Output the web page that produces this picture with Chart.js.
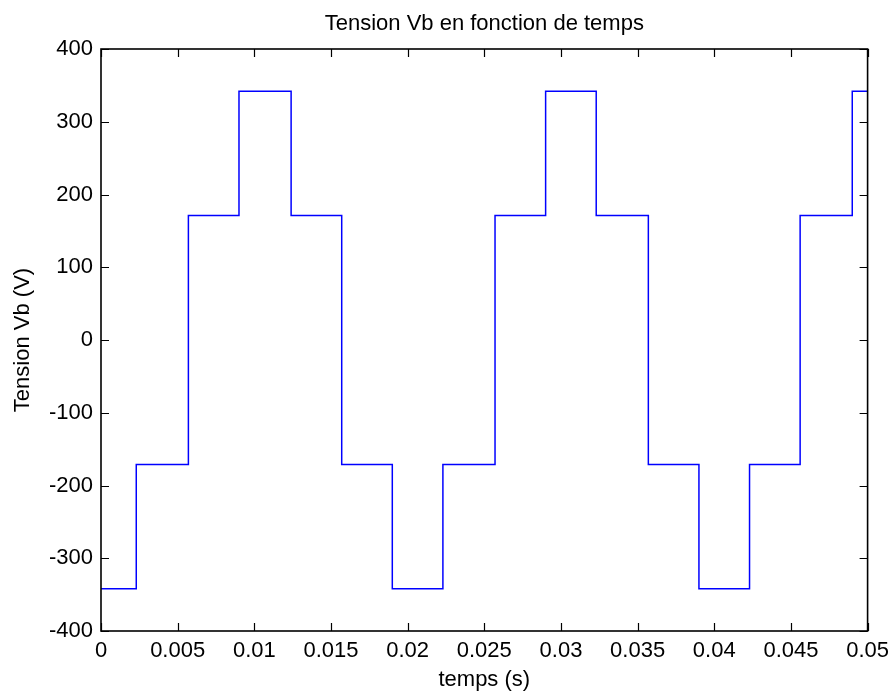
<!DOCTYPE html>
<html>
<head>
<meta charset="utf-8">
<script src="https://cdn.jsdelivr.net/npm/chart.js@4/dist/chart.umd.min.js"></script>
<style>
  html, body { margin: 0; padding: 0; background: #fff; }
  canvas { display: block; }
</style>
</head>
<body>
<canvas id="myChart" width="896" height="695"></canvas>
<script>
// temps (s) des changements de palier, et tension Vb (V) à partir de chaque instant
const times = [0, 0.0023, 0.0057, 0.0090, 0.0124, 0.0157, 0.0190, 0.0223, 0.0257,
               0.0290, 0.0323, 0.0357, 0.0390, 0.0423, 0.0456, 0.0490, 0.05];
const volts = [-342, -171, 171, 342, 171, -171, -342, -171, 171,
               342, 171, -171, -342, -171, 171, 342, 342];

const xTicks = [0, 0.005, 0.01, 0.015, 0.02, 0.025, 0.03, 0.035, 0.04, 0.045, 0.05];
const xTickLabels = ['0', '0.005', '0.01', '0.015', '0.02', '0.025', '0.03', '0.035', '0.04', '0.045', '0.05'];
const yTicks = [-400, -300, -200, -100, 0, 100, 200, 300, 400];
const yTickLabels = ['-400', '-300', '-200', '-100', '0', '100', '200', '300', '400'];

const font = { family: '"Liberation Sans", Arial, sans-serif', size: 22, weight: 'normal' };

// cadre noir + graduations vers l'intérieur sur les 4 côtés (style matlab)
const boxTicks = {
    id: 'boxTicks',
    afterDraw(chart) {
        const { ctx, chartArea: a, scales } = chart;
        const len = 8;
        ctx.save();
        ctx.strokeStyle = '#000';
        ctx.lineWidth = 1.2;
        ctx.beginPath();
        scales.x.ticks.forEach(t => {
            const px = Math.round(scales.x.getPixelForValue(t.value)) + 0.5;
            ctx.moveTo(px, a.bottom); ctx.lineTo(px, a.bottom - len);
            ctx.moveTo(px, a.top); ctx.lineTo(px, a.top + len);
        });
        scales.y.ticks.forEach(t => {
            const py = Math.round(scales.y.getPixelForValue(t.value)) + 0.5;
            ctx.moveTo(a.left, py); ctx.lineTo(a.left + len, py);
            ctx.moveTo(a.right, py); ctx.lineTo(a.right - len, py);
        });
        ctx.stroke();
        ctx.lineWidth = 1.6;
        ctx.strokeRect(a.left, a.top, a.right - a.left, a.bottom - a.top);
        ctx.restore();
    }
};

new Chart(document.getElementById('myChart'), {
    type: 'scatter',
    data: {
        datasets: [{
            label: 'Vb',
            data: times.map((t, i) => ({ x: t, y: volts[i] })),
            showLine: true,
            stepped: true,
            borderColor: '#0000ff',
            backgroundColor: '#0000ff',
            borderWidth: 1.5,
            pointRadius: 0,
        }],
    },
    options: {
        responsive: false,
        animation: false,
        layout: { padding: { left: 0, right: 27, top: 0, bottom: 0 } },
        plugins: {
            legend: { display: false },
            tooltip: { enabled: false },
            title: {
                display: true,
                text: 'Tension Vb en fonction de temps',
                fullSize: false,
                color: '#000',
                font: font,
                padding: { top: 11, bottom: 11.6 },
            },
        },
        scales: {
            x: {
                type: 'linear',
                min: 0,
                max: 0.05,
                grid: { display: false, drawTicks: false },
                border: { display: false },
                afterBuildTicks: s => { s.ticks = xTicks.map(v => ({ value: v })); },
                afterFit: s => { s.height = 64; },
                ticks: {
                    color: '#000',
                    font: font,
                    padding: 7,
                    maxRotation: 0,
                    autoSkip: false,
                    callback: (v, i) => xTickLabels[i],
                },
                title: {
                    display: true,
                    text: 'temps (s)',
                    color: '#000',
                    font: font,
                    padding: { top: 2, bottom: 2 },
                },
            },
            y: {
                min: -400,
                max: 400,
                grid: { display: false, drawTicks: false },
                border: { display: false },
                afterBuildTicks: s => { s.ticks = yTicks.map(v => ({ value: v })); },
                afterFit: s => { s.width = 101; },
                ticks: {
                    color: '#000',
                    font: font,
                    padding: 8,
                    autoSkip: false,
                    callback: (v, i) => yTickLabels[i],
                },
                title: {
                    display: true,
                    text: 'Tension Vb (V)',
                    color: '#000',
                    font: font,
                    padding: { top: 10, bottom: 10 },
                },
            },
        },
    },
    plugins: [boxTicks],
});
</script>
</body>
</html>
